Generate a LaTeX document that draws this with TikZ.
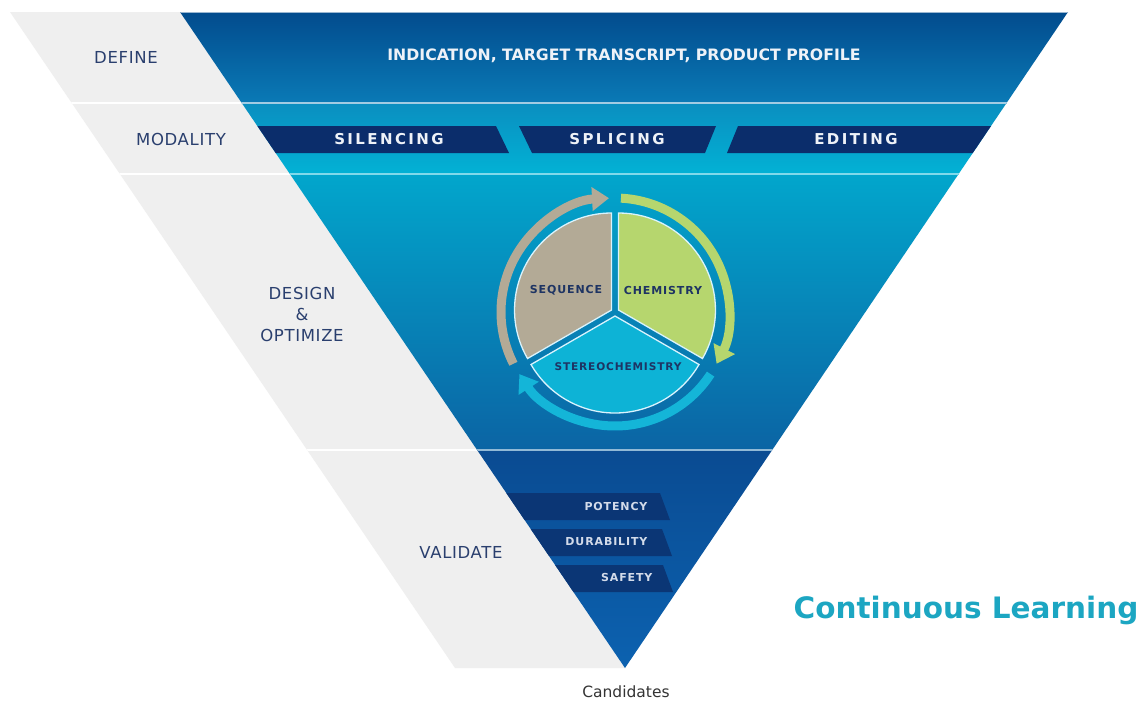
\documentclass[tikz,border=0pt]{standalone}
\usepackage{fontspec}
\setmainfont{DejaVu Sans}
\newfontfamily\labelfont{DejaVu Sans}[LetterSpace=4]
\newfontfamily\barfont{DejaVu Sans}[LetterSpace=16]
\newfontfamily\tagfont{DejaVu Sans}[LetterSpace=8]
\usetikzlibrary{arrows.meta}

\definecolor{bandgray}{HTML}{EFEFEF}
\definecolor{labelnavy}{HTML}{2A3F6E}
\definecolor{defTop}{HTML}{024B8D}
\definecolor{defBot}{HTML}{0A7AB6}
\definecolor{modTop}{HTML}{0A8EC0}
\definecolor{modBot}{HTML}{02B2D5}
\definecolor{desTop}{HTML}{02A6CC}
\definecolor{desBot}{HTML}{0B64A4}
\definecolor{valTop}{HTML}{0A4B92}
\definecolor{valBot}{HTML}{0C62B0}
\definecolor{navybar}{HTML}{0B2D6B}
\definecolor{valbar}{HTML}{0B3675}
\definecolor{bartextcol}{HTML}{EEF2F8}
\definecolor{tagtextcol}{HTML}{D3DBEA}
\definecolor{seqcol}{HTML}{B3AA96}
\definecolor{chemcol}{HTML}{B6D66E}
\definecolor{stereocol}{HTML}{0DB3D6}
\definecolor{ringcyan}{HTML}{14B5D8}
\definecolor{pietext}{HTML}{1E3463}
\definecolor{learncol}{HTML}{1CA6C2}
\definecolor{candcol}{HTML}{333333}

\tikzset{
  seclabel/.style={text=labelnavy, align=center,
    font=\labelfont\fontsize{16.5}{21}\selectfont},
  bartext/.style={text=bartextcol,
    font=\barfont\bfseries\fontsize{15}{18}\selectfont},
  tagtext/.style={text=tagtextcol, anchor=east,
    font=\tagfont\bfseries\fontsize{11}{13}\selectfont},
  pietag/.style={text=pietext,
    font=\tagfont\bfseries\fontsize{11}{13}\selectfont},
  sector/.style={draw=white!85!cyan, line width=1.3pt},
  cyclearrow/.style={line width=9pt,
    -{Triangle[width=23pt,length=17pt]}},
  divider/.style={line width=2.4pt},
}

\begin{document}
\begin{tikzpicture}[x=1pt,y=-1pt]
\useasboundingbox (0,0) rectangle (1141,702);
\fill[white] (0,0) rectangle (1141,702);

% slanted grey band carrying the stage names
\begin{scope}
  \clip (10,12) -- (180,12) -- (625,668) -- (455,668) -- cycle;
  \fill[bandgray] (0,0) rectangle (700,702);
  \draw[divider, white] (0,103) -- (700,103);
  \draw[divider, white] (0,174) -- (700,174);
  \draw[divider, white] (0,450) -- (700,450);
\end{scope}

% funnel: four stages, each with its own gradient
\begin{scope}
  \clip (180,12) -- (1068,12) -- (625,668) -- cycle;
  \shade[top color=defTop, bottom color=defBot] (170,11) rectangle (1080,103);
  \shade[top color=modTop, bottom color=modBot] (170,103) rectangle (1080,174);
  \shade[top color=desTop, bottom color=desBot] (170,174) rectangle (1080,450);
  \shade[top color=valTop, bottom color=valBot] (170,450) rectangle (1080,670);
  \draw[line width=1.2pt, color=white!60!defTop] (170,12.3) -- (1080,12.3);
  \draw[divider, color=white!62!defBot] (170,103) -- (1080,103);
  \draw[divider, color=white!50!modBot] (170,174) -- (1080,174);
  \draw[divider, color=white!55!desBot] (170,450) -- (1080,450);
  % modality bars
  \fill[navybar] (200,126) -- (496,126) -- (509,153) -- (200,153) -- cycle;
  \fill[navybar] (519,126) -- (716,126) -- (705,153) -- (532,153) -- cycle;
  \fill[navybar] (738,126) -- (1100,126) -- (1100,153) -- (727,153) -- cycle;
  % validation bars
  \fill[valbar] (470,493) -- (660,493) -- (670,520) -- (470,520) -- cycle;
  \fill[valbar] (470,529) -- (662,529) -- (672,556) -- (470,556) -- cycle;
  \fill[valbar] (470,565) -- (663,565) -- (673,592) -- (470,592) -- cycle;
\end{scope}

% stage names
\node[seclabel] (define)   at (126,57)  {DEFINE};
\node[seclabel] (modality) at (181,139) {MODALITY};
\node[seclabel] (design)   at (302,314) {DESIGN\\\&\\OPTIMIZE};
\node[seclabel] (validate) at (461,552) {VALIDATE};

\node[text=bartextcol, font=\bfseries\fontsize{15.7}{18}\selectfont]
  (profile) at (624,56) {INDICATION, TARGET TRANSCRIPT, PRODUCT PROFILE};

\node[bartext] (silencing) at (389,139) {SILENCING};
\node[bartext] (splicing)  at (617,139) {SPLICING};
\node[bartext] (editing)   at (856,139) {EDITING};

\node[tagtext] (potency)    at (651,506) {POTENCY};
\node[tagtext] (durability) at (651,542) {DURABILITY};
\node[tagtext] (safety)     at (656,577) {SAFETY};

% design cycle: three sectors and the arrows around them
\begin{scope}[shift={(615,312)}, y=1pt]
  \filldraw[sector, fill=seqcol] (150:4) -- ++(210:97)
    arc[start angle=210, end angle=90, radius=97] -- cycle;
  \filldraw[sector, fill=chemcol] (30:4) -- ++(90:97)
    arc[start angle=90, end angle=-30, radius=97] -- cycle;
  \filldraw[sector, fill=stereocol] (270:4) -- ++(330:97)
    arc[start angle=330, end angle=210, radius=97] -- cycle;
  \draw[cyclearrow, seqcol] (207:114) arc[start angle=207, end angle=93, radius=114];
  \draw[cyclearrow, chemcol] (87:114) arc[start angle=87, end angle=-27, radius=114];
  \draw[cyclearrow, ringcyan] (-33:114) arc[start angle=-33, end angle=-147, radius=114];
  \node[pietag] (sequence)  at (-49,22)  {SEQUENCE};
  \node[pietag] (chemistry) at (48,22)   {CHEMISTRY};
  \node[pietag, font=\tagfont\bfseries\fontsize{10.6}{13}\selectfont]
    (stereo) at (3,-55) {STEREOCHEMISTRY};
\end{scope}

\node[text=learncol, font=\bfseries\fontsize{29.5}{34}\selectfont]
  (learning) at (966,610) {Continuous Learning};
\node[text=candcol, font=\fontsize{15.5}{18}\selectfont]
  (candidates) at (626,692) {Candidates};
\end{tikzpicture}
\end{document}
